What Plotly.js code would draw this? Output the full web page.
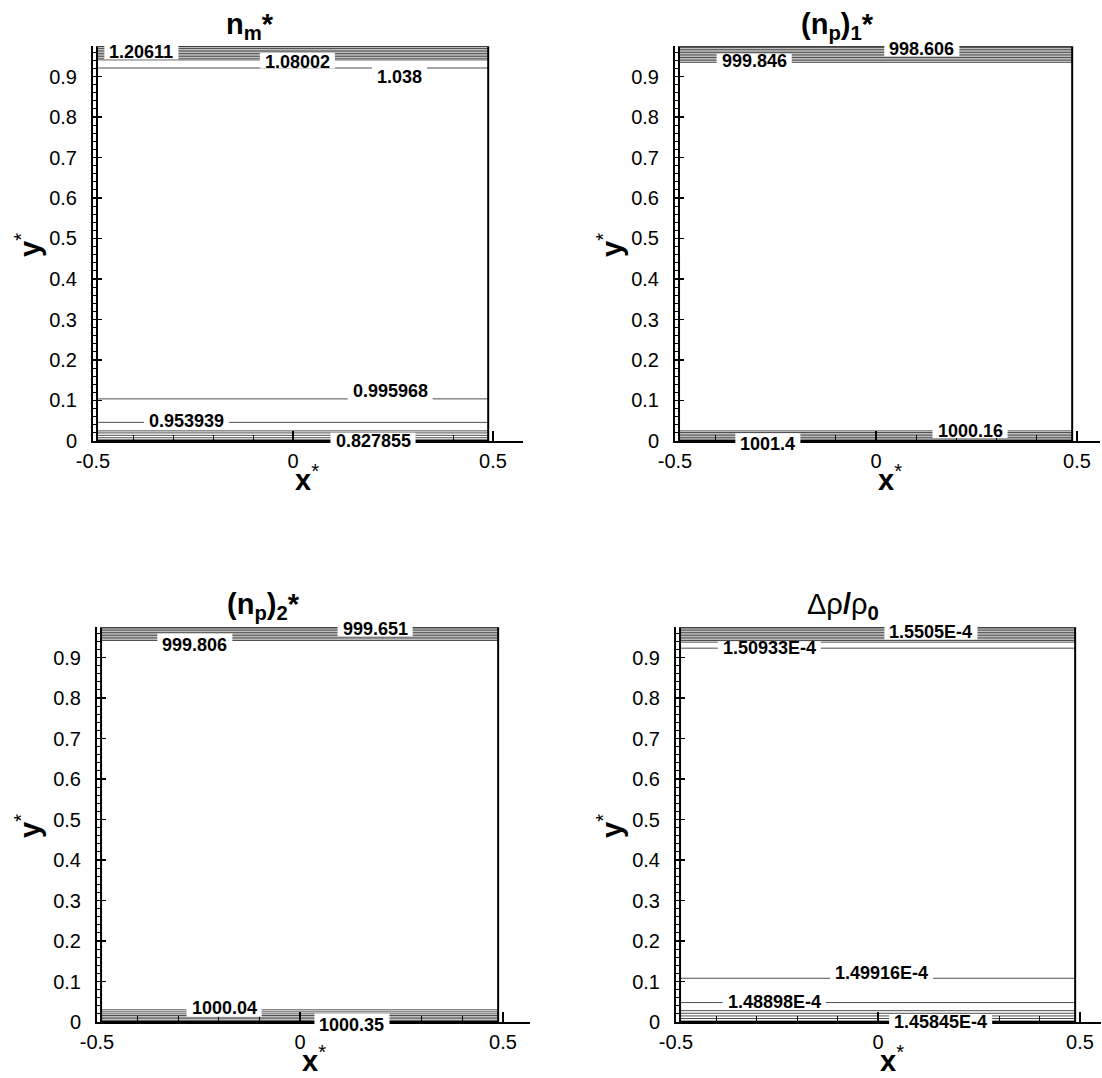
<!DOCTYPE html>
<html>
<head>
<meta charset="utf-8">
<script src="https://cdn.plot.ly/plotly-3.0.1.min.js"></script>
<style>
  html, body { margin: 0; padding: 0; background: #ffffff; }
  #chart { width: 1102px; height: 1078px; }
</style>
</head>
<body>
<div id="chart"></div>
<script>
// ---- Iso-line positions (y*) and their labels for each field ----

// n_m*
const nmLevels = [0.969, 0.965, 0.961, 0.957, 0.953, 0.949, 0.945, 0.941, 0.921,
                  0.104, 0.046, 0.025, 0.020, 0.014, 0.008, 0.003];
const nmLabels = ['1.20611', '1.08002', '1.038', '0.995968', '0.953939', '0.827855'];
const nmLabelX = [-0.379, 0.011, 0.266, 0.243, -0.266, 0.200];
const nmLabelY = [0.960, 0.937, 0.898, 0.124, 0.050, 0.001];
const nmLabelLine = [2, 7, 8, 9, 10, 15];

// (n_p)_1*
const np1Levels = [0.971, 0.967, 0.963, 0.959, 0.955, 0.951, 0.947, 0.943, 0.939, 0.935,
                   0.025, 0.021, 0.017, 0.013, 0.009, 0.005, 0.002];
const np1Labels = ['999.846', '998.606', '1000.16', '1001.4'];
const np1LabelX = [-0.303, 0.114, 0.234, -0.269];
const np1LabelY = [0.939, 0.968, 0.025, -0.008];
const np1LabelLine = [8, 1, 10, 16];

// (n_p)_2*
const np2Levels = [0.970, 0.966, 0.962, 0.958, 0.954, 0.950, 0.946, 0.942,
                   0.030, 0.025, 0.020, 0.016, 0.012, 0.008, 0.004];
const np2Labels = ['999.651', '999.806', '1000.04', '1000.35'];
const np2LabelX = [0.185, -0.259, -0.187, 0.128];
const np2LabelY = [0.970, 0.931, 0.035, -0.007];
const np2LabelLine = [0, 7, 8, 14];

// Δρ/ρ0
const drhoLevels = [0.970, 0.966, 0.962, 0.958, 0.954, 0.950, 0.946, 0.942, 0.938, 0.923,
                    0.108, 0.048, 0.028, 0.0215, 0.015, 0.0086, 0.0025];
const drhoLabels = ['1.5505E-4', '1.50933E-4', '1.49916E-4', '1.48898E-4', '1.45845E-4'];
const drhoLabelX = [0.131, -0.269, 0.009, -0.257, 0.155];
const drhoLabelY = [0.962, 0.923, 0.122, 0.050, -0.001];
const drhoLabelLine = [2, 9, 10, 11, 16];

// Axis ticks
const xTickVals = [-0.5, 0, 0.5];
const xTickText = ['-0.5', '0', '0.5'];

// ---- Page / panel geometry ----
const W = 1102, H = 1078;
const FONT = '"Liberation Sans", Arial, Helvetica, sans-serif';
const Y_TOP = 0.975;            // top of the domain box
const FRAME_X = [-0.49, 0.488]; // left/right walls of the domain box
const SY = 405;                 // pixels per unit of y*

const panels = [
  { levels: nmLevels, labels: nmLabels, lx: nmLabelX, ly: nmLabelY, lline: nmLabelLine,
    title: '<b>n<sub>m</sub>*</b>', px0: 293, sx: 400, xmax: 0.575, py0: 441,
    titleX: 250, titleY: 26, yTitleX: 28 },
  { levels: np1Levels, labels: np1Labels, lx: np1LabelX, ly: np1LabelY, lline: np1LabelLine,
    title: '<b>(n<sub>p</sub>)<sub>1</sub>*</b>', px0: 876, sx: 402, xmax: 0.557, py0: 441,
    titleX: 837, titleY: 26, yTitleX: 610 },
  { levels: np2Levels, labels: np2Labels, lx: np2LabelX, ly: np2LabelY, lline: np2LabelLine,
    title: '<b>(n<sub>p</sub>)<sub>2</sub>*</b>', px0: 300, sx: 406, xmax: 0.567, py0: 1022,
    titleX: 263, titleY: 606, yTitleX: 28 },
  { levels: drhoLevels, labels: drhoLabels, lx: drhoLabelX, ly: drhoLabelY, lline: drhoLabelLine,
    title: 'Δρ<b>/</b>ρ<sub><b>0</b></sub>', px0: 878, sx: 404, xmax: 0.552, py0: 1022,
    titleX: 843, titleY: 606, yTitleX: 610 }
];

// text width of a contour label, for the white gap behind it
const ctx = document.createElement('canvas').getContext('2d');
ctx.font = 'bold 18px "Liberation Sans", Arial, sans-serif';
function textWidth(s) { return ctx.measureText(s).width; }

const traces = [];
const shapes = [];
const annotations = [];
const layout = {
  width: W, height: H,
  margin: { l: 0, r: 0, t: 0, b: 0 },
  paper_bgcolor: '#ffffff', plot_bgcolor: '#ffffff',
  showlegend: false,
  font: { family: FONT, color: '#000000' }
};

panels.forEach((p, i) => {
  const s = i === 0 ? '' : String(i + 1);
  const xa = 'x' + s, ya = 'y' + s;

  const left = p.px0 - 0.5 * p.sx;
  const right = p.px0 + p.xmax * p.sx;
  const bottom = p.py0;
  const top = p.py0 - Y_TOP * SY;

  // data -> page fraction (labels and their gaps may sit just outside the axis range)
  const toPaperX = v => (p.px0 + v * p.sx) / W;
  const toPaperY = v => 1 - (p.py0 - v * SY) / H;

  layout['xaxis' + s] = {
    domain: [left / W, right / W],
    range: [-0.5, p.xmax],
    anchor: ya,
    showline: true, linewidth: 2, linecolor: '#000000',
    showgrid: false, zeroline: false,
    ticks: 'inside', ticklen: 10, tickwidth: 1.5, tickcolor: '#000000',
    tickmode: 'array', tickvals: xTickVals, ticktext: xTickText,
    minor: { tickmode: 'linear', tick0: 0, dtick: 0.1, ticks: 'inside',
             ticklen: 6, tickwidth: 1, tickcolor: '#000000' },
    tickfont: { family: FONT, size: 20, color: '#000000' },
    ticklabelstandoff: 1,
    fixedrange: true
  };
  layout['yaxis' + s] = {
    domain: [(H - bottom) / H, (H - top) / H],
    range: [0, Y_TOP],
    anchor: xa,
    showline: true, linewidth: 2, linecolor: '#000000',
    showgrid: false, zeroline: false,
    tickmode: 'linear', tick0: 0, dtick: 0.1,
    ticks: 'inside', ticklen: 9, tickwidth: 1.5, tickcolor: '#000000',
    minor: { tickmode: 'linear', tick0: 0, dtick: 0.02, ticks: 'inside',
             ticklen: 5, tickwidth: 1, tickcolor: '#000000' },
    tickfont: { family: FONT, size: 20, color: '#000000' },
    ticklabelstandoff: 10,
    fixedrange: true
  };

  // iso-lines across the domain box
  const lx = [], ly = [];
  p.levels.forEach(v => {
    lx.push(FRAME_X[0], FRAME_X[1], null);
    ly.push(v, v, null);
  });
  traces.push({
    type: 'scatter', mode: 'lines', x: lx, y: ly, xaxis: xa, yaxis: ya,
    line: { color: '#000000', width: 0.7 }, hoverinfo: 'skip', connectgaps: false
  });

  // domain box
  shapes.push({
    type: 'rect', xref: xa, yref: ya,
    x0: FRAME_X[0], x1: FRAME_X[1], y0: 0, y1: Y_TOP,
    line: { color: '#000000', width: 2 }, fillcolor: 'rgba(0,0,0,0)', layer: 'above'
  });

  // contour labels: white gap across the labelled line, then the value
  p.labels.forEach((t, k) => {
    const w = textWidth(t);
    const lev = p.levels[p.lline[k]];
    const pad = 7 / SY;
    const cx = toPaperX(p.lx[k]);
    const hw = (w / 2 + 5) / W;
    shapes.push({
      type: 'rect', xref: 'paper', yref: 'paper',
      x0: cx - hw, x1: cx + hw,
      y0: toPaperY(Math.min(p.ly[k], lev) - pad), y1: toPaperY(Math.max(p.ly[k], lev) + pad),
      fillcolor: '#ffffff', line: { width: 0 }, layer: 'above'
    });
    annotations.push({
      xref: 'paper', yref: 'paper', x: cx, y: toPaperY(p.ly[k]),
      text: '<b>' + t + '</b>', showarrow: false,
      xanchor: 'center', yanchor: 'middle',
      font: { family: FONT, size: 18, color: '#000000' }
    });
  });

  // panel title
  annotations.push({
    xref: 'paper', yref: 'paper', x: p.titleX / W, y: 1 - p.titleY / H,
    text: p.title, showarrow: false, xanchor: 'center', yanchor: 'middle',
    font: { family: FONT, size: 29, color: '#000000' }
  });

  // axis titles
  annotations.push({
    xref: 'paper', yref: 'paper', x: (p.px0 + 14) / W, y: 1 - (p.py0 + 37) / H,
    text: '<b>x</b><sup>*</sup>', showarrow: false, xanchor: 'center', yanchor: 'middle',
    font: { family: FONT, size: 29, color: '#000000' }
  });
  annotations.push({
    xref: 'paper', yref: 'paper', x: p.yTitleX / W, y: 1 - (p.py0 - 196) / H,
    text: '<b>y</b><sup>*</sup>', showarrow: false, textangle: -90,
    xanchor: 'center', yanchor: 'middle',
    font: { family: FONT, size: 29, color: '#000000' }
  });
});

layout.shapes = shapes;
layout.annotations = annotations;

Plotly.newPlot('chart', traces, layout, { displayModeBar: false, staticPlot: true });
</script>
</body>
</html>
